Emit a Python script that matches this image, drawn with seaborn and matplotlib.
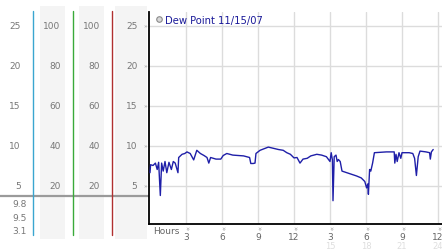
import matplotlib
matplotlib.use("Agg")
import matplotlib.pyplot as plt
import matplotlib.transforms as mtransforms
from matplotlib.lines import Line2D
import seaborn as sns
import pandas as pd

# ---------------- data ----------------
hours = [0.00, 0.05, 0.25, 0.45, 0.60, 0.72, 0.86, 0.97, 1.10, 1.25, 1.40, 1.58, 1.78, 1.94,
         2.10, 2.33, 2.39, 2.67, 2.90, 3.08, 3.35, 3.64, 3.90, 4.20, 4.50, 4.75, 4.90, 5.05,
         5.50, 5.90, 6.10, 6.40, 6.90, 7.80, 8.30, 8.40, 8.60, 8.75, 8.83, 9.17, 9.86, 10.70,
         11.10, 11.40, 11.70, 12.00, 12.25, 12.50, 12.75, 13.10, 13.40, 13.90, 14.30, 14.70,
         15.00, 15.10, 15.20, 15.25, 15.35, 15.50, 15.60, 15.70, 15.85, 16.00, 16.40, 16.80,
         17.20, 17.60, 17.90, 18.05, 18.15, 18.20, 18.30, 18.40, 18.55, 18.70, 19.70, 20.35,
         20.40, 20.50, 20.60, 20.75, 20.90, 21.00, 21.60, 21.90, 22.05, 22.20, 22.35, 22.50,
         23.00, 23.30, 23.36, 23.45, 23.60]
dewpoint = [6.6, 7.6, 7.5, 7.8, 7.0, 7.9, 3.75, 7.8, 6.8, 8.0, 6.6, 7.9, 7.0, 8.0,
            7.8, 6.6, 8.5, 8.9, 9.0, 9.2, 9.0, 8.2, 9.4, 9.0, 8.75, 8.5, 7.8, 8.5,
            8.3, 8.3, 8.75, 9.0, 8.8, 8.7, 8.5, 7.75, 7.75, 7.8, 9.0, 9.4, 9.8, 9.5,
            9.4, 9.1, 8.9, 8.45, 8.5, 7.8, 8.3, 8.4, 8.7, 8.9, 8.8, 8.6,
            8.0, 9.1, 8.2, 3.1, 8.6, 8.8, 8.0, 8.25, 8.0, 6.8, 6.6, 6.4,
            6.2, 5.95, 5.5, 4.7, 5.2, 3.9, 7.0, 6.8, 7.8, 9.1, 9.2, 9.2,
            7.8, 8.9, 8.0, 9.1, 8.4, 9.1, 9.1, 9.0, 8.4, 6.25, 8.6, 9.3,
            9.2, 9.1, 8.3, 9.2, 9.5]

series_label = "Dew Point 11/15/07"
xtick_hours = [3, 6, 9, 12, 15, 18, 21, 24]
xtick_labels = ["3", "6", "9", "12", "3", "6", "9", "12"]
xtick_sub = ["", "", "", "", "15", "18", "21", "24"]
ytick_vals = [5, 10, 15, 20, 25]
pct_labels = ["20", "40", "60", "80", "100"]
stat_labels = ["9.8", "9.5", "3.1"]

# ---------------- figure ----------------
sns.set_style("white")
plt.rcParams["font.family"] = ["DejaVu Sans"]
W, H = 442, 253
fig = plt.figure(figsize=(W / 100, H / 100), dpi=100)

FS = 6.5
NUMC = "#777777"

# left side panel in pixel-x / value-y coordinates (8 px per unit, 0 at y=226.5)
axl = fig.add_axes([0, 0, 149 / W, 1])
axl.set_xlim(0, 149)
axl.set_ylim((226.5 - H) / 8, 226.5 / 8)
axl.axis("off")

def py(p):
    return (226.5 - p) / 8

band_lo, band_hi = py(240), py(6.7)
for x0, x1 in [(40, 65), (79, 104), (115, 147)]:
    axl.fill_between([x0, x1], band_lo, band_hi, color="#f4f4f4", lw=0, zorder=0)

for xv, col in [(33.3, "#3aa6d0"), (72.5, "#3aaa3a"), (111.5, "#b03030")]:
    axl.plot([xv, xv], [py(236), py(11.7)], color=col, lw=1.0, zorder=2)

axl.plot([0, 149], [py(196.7), py(196.7)], color="#9a9a9a", lw=1.6, zorder=1)

for v in ytick_vals:
    axl.text(20.8, v, str(v), ha="right", va="center", fontsize=FS, color=NUMC)
    axl.text(137.5, v, str(v), ha="right", va="center", fontsize=FS, color=NUMC)
    axl.text(145.5, v, "»", ha="center", va="center", fontsize=4.5, color="#999999")
for v, lab in zip(ytick_vals, pct_labels):
    axl.text(60.5, v, lab, ha="right", va="center", fontsize=FS, color=NUMC)
    axl.text(100, v, lab, ha="right", va="center", fontsize=FS, color=NUMC)
for p, lab in zip([204.7, 218.7, 231.7], stat_labels):
    axl.text(27, py(p), lab, ha="right", va="center", fontsize=FS, color=NUMC)

# main chart
ax = fig.add_axes([149 / W, (H - 225) / H, (W - 149) / W, 212 / H])
df = pd.DataFrame({"hour": hours, "dew": dewpoint})
sns.lineplot(data=df, x="hour", y="dew", ax=ax, color="#1f1fa8", lw=1.0, legend=False, zorder=3)
ax.set_xlim(-1 / 12, 293 / 12 - 1 / 12)
ax.set_ylim(py(225), py(13))
ax.set_xlabel("")
ax.set_ylabel("")
ax.set_xticks(xtick_hours)
ax.set_yticks(ytick_vals)
ax.set_yticklabels([])
ax.set_xticklabels(xtick_labels)
ax.tick_params(axis="x", length=0, pad=6.0, labelsize=FS, labelcolor="#666666")
ax.tick_params(axis="y", length=0)
ax.grid(True, color="#dcdcdc", lw=1.0)
for s in ["top", "right"]:
    ax.spines[s].set_visible(False)
for s in ["left", "bottom"]:
    ax.spines[s].set_color("black")
    ax.spines[s].set_linewidth(1.3)

tr = mtransforms.blended_transform_factory(ax.transData, ax.transAxes)
for xh, sub in zip(xtick_hours, xtick_sub):
    ax.text(xh, (225 - 228.5) / 212, "»", rotation=-90, ha="center", va="center",
            fontsize=5, color="#9a9a9a", transform=tr, clip_on=False)
    if sub:
        ax.text(xh, (225 - 247) / 212, sub, ha="center", va="center",
                fontsize=6, color="#dedede", transform=tr, clip_on=False)
ax.text((153 - 149) / 293, (225 - 231.5) / 212, "Hours", ha="left", va="center",
        fontsize=FS, color="#666666", transform=ax.transAxes, clip_on=False)

handle = Line2D([], [], marker="o", linestyle="", markerfacecolor="#d8d8d8",
                markeredgecolor="#8a8a8a", markersize=4, markeredgewidth=0.8)
ax.legend([handle], [series_label], loc="center left",
          bbox_to_anchor=((155 - 149) / 293, (225 - 20.7) / 212),
          frameon=False, fontsize=7.2, labelcolor="#1a1a99", borderpad=0,
          borderaxespad=0, handlelength=0.8, handletextpad=0.2)

fig.savefig("out.png", dpi=100)
